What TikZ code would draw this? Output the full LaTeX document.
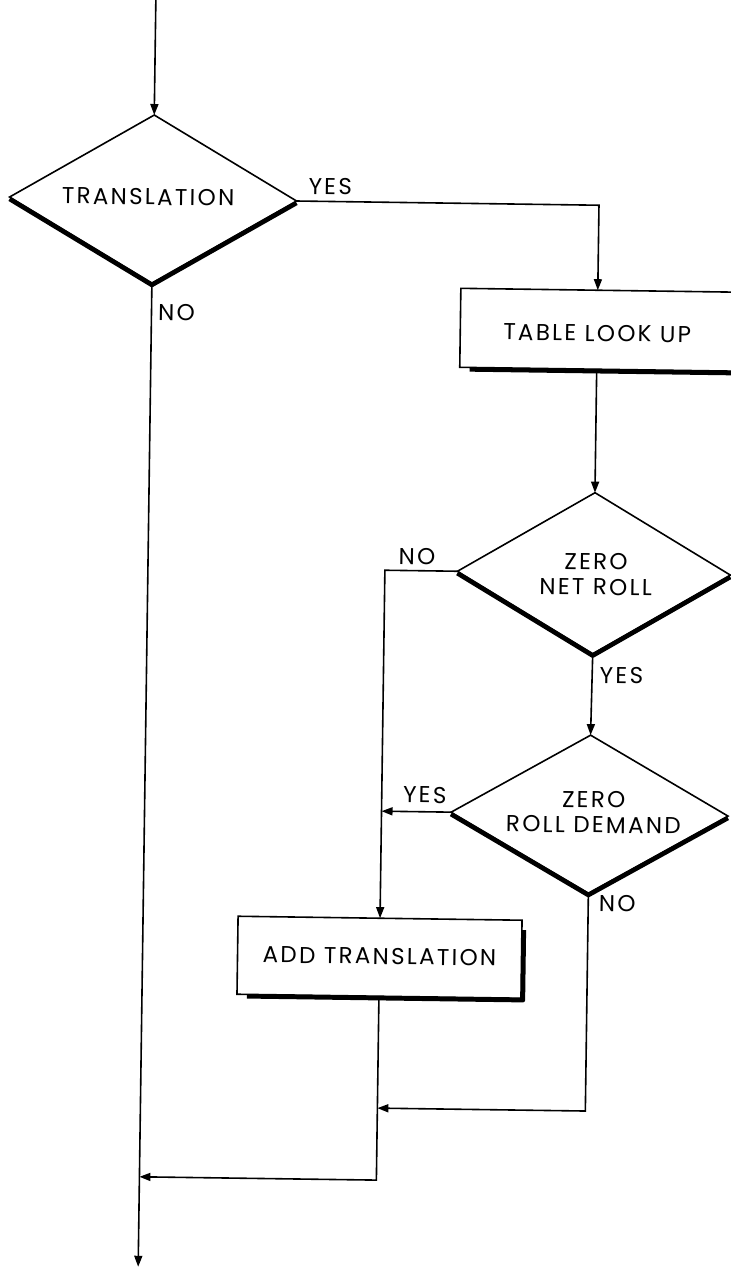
\documentclass[tikz,border=0pt]{standalone}
\usepackage{fontspec}
\setmainfont{Poppins}[LetterSpace=10]
\usetikzlibrary{shapes.geometric,arrows.meta}
\begin{document}
\begin{tikzpicture}[x=1pt,y=-1pt,
  line width=1.6pt,
  arr/.style={-{Triangle[length=11pt,width=8pt]}},
  dec/.style={diamond, draw, inner sep=0pt, outer sep=0pt},
  proc/.style={rectangle, draw, inner sep=0pt, outer sep=0pt},
  lbl/.style={font=\fontsize{23}{25.5}\selectfont, align=center, inner sep=0pt},
  shadowline/.style={line width=4.5pt, line join=round},
]
\useasboundingbox (0,0) rectangle (731,1272);
\begin{scope}[rotate around={-0.8:(365,636)}, transform shape]
% nodes
\node[dec, minimum width=287pt, minimum height=168pt] (t) at (147,202) {};
\node[lbl] (tl) at (142,200) {TRANSLATION};
\node[proc, minimum width=274pt, minimum height=79pt] (tlu) at (593,326.5) {};
\node[lbl] (tlul) at (593,330) {TABLE LOOK UP};
\node[dec, minimum width=273pt, minimum height=161pt] (znr) at (593,570) {};
\node[lbl] (znrl) at (595,571) {ZERO\\NET ROLL};
\node[dec, minimum width=277pt, minimum height=158pt] (zrd) at (592,811) {};
\node[lbl] (zrdl) at (596,809) {ZERO\\ROLL DEMAND};
\node[proc, minimum width=284pt, minimum height=78pt] (add) at (384,957) {};
\node[lbl] (addl) at (384,956) {ADD TRANSLATION};
% shadows
\draw[shadowline] ([shift={(0,2)}]t.west) -- ([shift={(0,2)}]t.south) -- ([shift={(0,2)}]t.east);
\draw[shadowline] ([shift={(0,2)}]znr.west) -- ([shift={(0,2)}]znr.south) -- ([shift={(0,2)}]znr.east);
\draw[shadowline] ([shift={(0,2)}]zrd.west) -- ([shift={(0,2)}]zrd.south) -- ([shift={(0,2)}]zrd.east);
\draw[shadowline] ([shift={(10,2)}]tlu.south west) -- ([shift={(2,2)}]tlu.south east) -- ([shift={(2,10)}]tlu.north east);
\draw[shadowline] ([shift={(10,2)}]add.south west) -- ([shift={(2,2)}]add.south east) -- ([shift={(2,10)}]add.north east);
% coordinates
\coordinate (top) at (147,-8);
\coordinate (j1) at (384,1108);
\coordinate (j2) at (147,1180);
\coordinate (bot) at (147,1270);
% connectors
\draw[arr] (top) -- (t.north);
\draw[arr] (t.east) -| (tlu.north);
\draw[arr] (tlu.south) -- (znr.north);
\draw[arr] (znr.west) -| (add.north);
\draw[arr] (znr.south) -- (zrd.north);
\draw[arr] (zrd.west) -- (zrd.west -| add.north);
\draw[arr] (zrd.south) |- (j1);
\draw[arr] (add.south) |- (j2);
\draw[arr] (t.south) -- (bot);
% labels
\node[lbl] (tyes) at (324,187) {YES};
\node[lbl] (tno) at (172,315) {NO};
\node[lbl] (znrno) at (416,556) {NO};
\node[lbl] (znryes) at (622,672) {YES};
\node[lbl] (zrdyes) at (427,794) {YES};
\node[lbl] (zrdno) at (621,900) {NO};
\end{scope}
\end{tikzpicture}
\end{document}
